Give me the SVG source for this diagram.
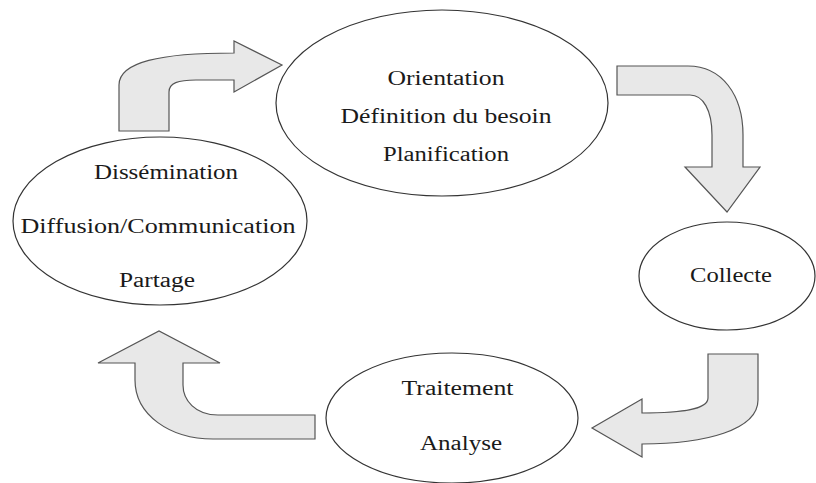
<svg xmlns="http://www.w3.org/2000/svg" width="816" height="483" viewBox="0 0 816 483">
<style>
.node ellipse{fill:#fff;stroke:#333;stroke-width:1.2}
.arrow{fill:#e8e8e8;stroke:#555;stroke-width:1.2;stroke-linejoin:miter}
text{font-family:"Liberation Serif","DejaVu Serif",serif;font-size:20px;fill:#1a1a1a;text-anchor:middle}
</style>
<rect width="816" height="483" fill="#fff"/>
<g id="node-orientation" class="node">
<ellipse cx="442" cy="103" rx="166" ry="93"/>
<text x="446" y="85" textLength="117" lengthAdjust="spacingAndGlyphs">Orientation</text>
<text x="446" y="123" textLength="211" lengthAdjust="spacingAndGlyphs">Définition du besoin</text>
<text x="446" y="161" textLength="126" lengthAdjust="spacingAndGlyphs">Planification</text>
</g>
<g id="node-dissemination" class="node">
<ellipse cx="160" cy="221" rx="147" ry="84"/>
<text x="166" y="179" textLength="144" lengthAdjust="spacingAndGlyphs">Dissémination</text>
<text x="158" y="233" textLength="275" lengthAdjust="spacingAndGlyphs">Diffusion/Communication</text>
<text x="157" y="287" textLength="76" lengthAdjust="spacingAndGlyphs">Partage</text>
</g>
<g id="node-collecte" class="node">
<ellipse cx="727" cy="276" rx="88" ry="54"/>
<text x="731" y="282" textLength="82" lengthAdjust="spacingAndGlyphs">Collecte</text>
</g>
<g id="node-traitement" class="node">
<ellipse cx="452" cy="418" rx="126" ry="65"/>
<text x="457.5" y="395" textLength="112" lengthAdjust="spacingAndGlyphs">Traitement</text>
<text x="461" y="450" textLength="82" lengthAdjust="spacingAndGlyphs">Analyse</text>
</g>
<g id="connectors">
<path class="arrow" d="M119,131 V85 C119,62 160,53 234,53 V41 L282,65 L234,92 V80 H196 C178,80 169,83 169,92 V131 Z"/>
<path class="arrow" d="M617,66 H688 C722,66 743,95 743,135 V167 H760 L727,212 L685,167 H712 V135 C712,110 703,95 690,95 H617 Z"/>
<path class="arrow" d="M708,354 H758 V400 C758,430 705,444 642,444 V457 L592,428 L642,399 V413 C680,413 708,410 708,398 Z"/>
<path class="arrow" d="M135,363 V380 C135,415 170,439 213,439 H315 V415 H218 C195,415 183,400 183,385 V363 H220 L159,331 L98,363 Z"/>
</g>
</svg>
